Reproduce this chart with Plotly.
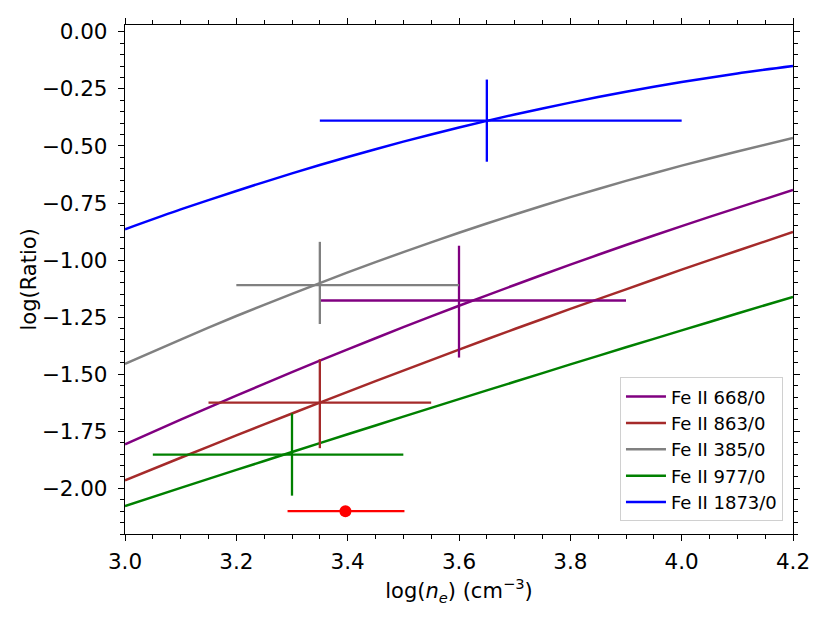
import plotly.graph_objects as go

# densidad (log) donde se evaluan las curvas
log_ne = [3.0, 3.1, 3.2, 3.3, 3.4, 3.5, 3.6, 3.7, 3.8, 3.9, 4.0, 4.1, 4.2]

# curvas teoricas
fe668 = [-1.807, -1.699, -1.594, -1.491, -1.391, -1.294, -1.200, -1.109, -1.020, -0.934, -0.851, -0.771, -0.693]
fe863 = [-1.965, -1.866, -1.768, -1.672, -1.577, -1.484, -1.392, -1.302, -1.214, -1.128, -1.042, -0.959, -0.877]
fe385 = [-1.455, -1.348, -1.245, -1.148, -1.054, -0.965, -0.880, -0.800, -0.724, -0.653, -0.586, -0.524, -0.465]
fe977 = [-2.078, -1.998, -1.919, -1.841, -1.763, -1.686, -1.609, -1.533, -1.457, -1.382, -1.308, -1.234, -1.161]
fe1873 = [-0.865, -0.778, -0.697, -0.620, -0.548, -0.481, -0.419, -0.362, -0.310, -0.262, -0.220, -0.182, -0.150]

# cocientes observados: x, y, errores (menos / mas)
obs_nombres = ["668", "863", "385", "977", "1873"]
obs_x = [3.60, 3.35, 3.35, 3.30, 3.65]
obs_y = [-1.177, -1.624, -1.110, -1.852, -0.389]
obs_xm = [0.25, 0.20, 0.15, 0.25, 0.30]
obs_xp = [0.30, 0.20, 0.25, 0.20, 0.35]
obs_ym = [0.25, 0.20, 0.17, 0.18, 0.18]
obs_yp = [0.24, 0.19, 0.19, 0.18, 0.18]

# densidad adoptada (punto rojo)
dens_x = [3.396]
dens_y = [-2.10]
dens_xm = [0.104]
dens_xp = [0.106]

curvas = [
    ("Fe II 668/0", fe668, "#800080"),
    ("Fe II 863/0", fe863, "#a52a2a"),
    ("Fe II 385/0", fe385, "#808080"),
    ("Fe II 977/0", fe977, "#008000"),
    ("Fe II 1873/0", fe1873, "#0000ff"),
]

fig = go.Figure()

for nombre, ys, color in curvas:
    fig.add_trace(go.Scatter(
        x=log_ne, y=ys, mode="lines", name=nombre,
        line=dict(color=color, width=2.5, shape="spline", smoothing=0.6),
    ))

for i, (nombre, ys, color) in enumerate(curvas):
    fig.add_trace(go.Scatter(
        x=[obs_x[i]], y=[obs_y[i]], mode="markers", showlegend=False,
        marker=dict(size=1, color=color, opacity=0),
        error_x=dict(type="data", symmetric=False, array=[obs_xp[i]], arrayminus=[obs_xm[i]],
                     color=color, thickness=2.3, width=0),
        error_y=dict(type="data", symmetric=False, array=[obs_yp[i]], arrayminus=[obs_ym[i]],
                     color=color, thickness=2.3, width=0),
    ))

fig.add_trace(go.Scatter(
    x=dens_x, y=dens_y, mode="markers", showlegend=False,
    marker=dict(size=12, color="#ff0000"),
    error_x=dict(type="data", symmetric=False, array=dens_xp, arrayminus=dens_xm,
                 color="#ff0000", thickness=2.3, width=0),
))

eje = dict(
    showgrid=False, zeroline=False, showline=True, linecolor="black", linewidth=1.3,
    mirror="ticks", ticks="outside", ticklen=6, tickwidth=1.3, tickcolor="black",
    tickfont=dict(size=21.5, color="black"), automargin=False,
)

yvals = [0.0, -0.25, -0.5, -0.75, -1.0, -1.25, -1.5, -1.75, -2.0]
ytext = [("−" if v < 0 else "") + f"{abs(v):.2f}" for v in yvals]

fig.update_xaxes(
    **eje, range=[3.0, 4.2], tickvals=[3.0, 3.2, 3.4, 3.6, 3.8, 4.0, 4.2],
    ticktext=["3.0", "3.2", "3.4", "3.6", "3.8", "4.0", "4.2"],
    ticklabelstandoff=2,
    minor=dict(ticks="outside", dtick=0.05, tick0=3.0, ticklen=3.5, tickwidth=1, tickcolor="black"),
    title=dict(text="log(<i>n<sub>e</sub></i>) (cm<sup>−3</sup>)", font=dict(size=21, color="black"), standoff=10),
)
fig.update_yaxes(
    **eje, range=[-2.20, 0.03], tickvals=yvals, ticktext=ytext,
    ticklabelstandoff=6,
    minor=dict(ticks="outside", dtick=0.05, tick0=0.0, ticklen=3.5, tickwidth=1, tickcolor="black"),
)

# titulo del eje y como anotacion para ubicarlo bien
fig.add_annotation(
    text="log(Ratio)", xref="paper", yref="paper", x=0, y=0.5,
    xanchor="center", yanchor="middle", xshift=-97, textangle=-90,
    showarrow=False, font=dict(size=21, color="black"),
)

# la pagina deja 8 px de margen, por eso la figura es algo menor
fig.update_layout(
    width=822, height=615,
    margin=dict(l=117, r=37, t=17, b=89),
    paper_bgcolor="white", plot_bgcolor="white",
    font=dict(family="DejaVu Sans", size=21, color="black"),
    legend=dict(
        x=0.985, y=0.025, xanchor="right", yanchor="bottom",
        bgcolor="rgba(255,255,255,0.8)", bordercolor="#d0d0d0", borderwidth=1,
        font=dict(size=18), tracegroupgap=0, itemwidth=40,
    ),
)

fig.write_html("out.html")
